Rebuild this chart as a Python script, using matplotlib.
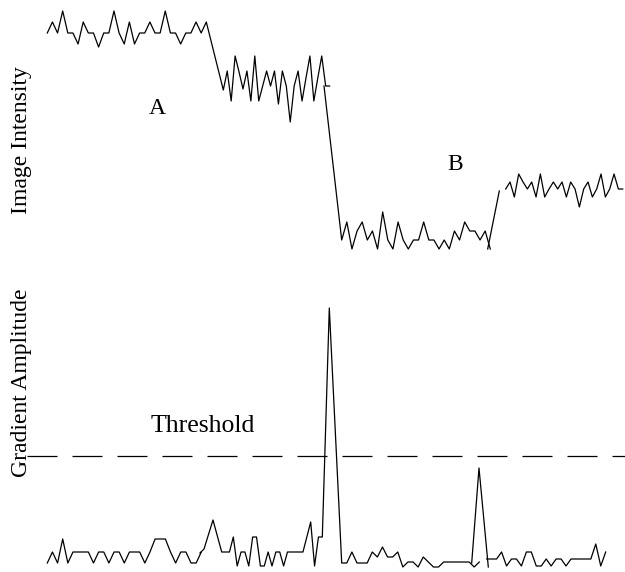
import numpy as np
import matplotlib
matplotlib.use("Agg")
import matplotlib.pyplot as plt

plt.rcParams['font.family'] = ['Liberation Serif', 'DejaVu Serif']

# ---- image intensity along the scan line ----
# region A, flat part
int_a1 = [253, 264, 253, 275, 253, 253, 242, 264, 253, 253, 239, 253, 253, 275, 253, 242,
          264, 242, 253, 253, 264, 253, 253, 275, 253, 253, 242, 253, 253, 264, 253, 264]
# region A, lower step
int_a2 = [196, 215, 185, 230, 214, 197, 215, 185, 230, 185, 200, 215, 200, 215, 182, 215,
          200, 164, 200, 215, 185, 208, 230, 185, 208, 230, 200, 200]
# region B (after the big edge)
int_b_start = 200
int_b = [46, 64, 37, 55, 64, 46, 55, 37, 74, 46, 37, 64, 46, 37, 46, 46, 64, 46, 46, 37,
         46, 37, 55, 46, 64, 55, 55, 46, 55, 37]
# small step up
int_bc = [37, 95]
int_c = [97, 104, 89, 112, 104, 97, 104, 89, 112, 89, 97, 104, 97, 104, 89, 104, 97, 79,
         97, 104, 89, 97, 112, 89, 97, 112, 97, 97]

# ---- gradient amplitude ----
grad_1 = [9, 20, 9, 33, 9, 20, 20, 20, 20, 9, 20, 20, 9, 20, 20, 9, 20, 20, 20, 9, 20, 33,
          33, 33, 20, 9, 20, 20, 9, 9, 20]
grad_2a = [19, 23, 52]
grad_2b = [20, 20, 20, 35, 6, 20, 20, 6, 35, 35, 6, 6, 20, 6, 20, 20, 6, 20, 20, 20, 20,
           20, 35, 50, 6, 35, 35]
grad_peak = 264
grad_3 = [9, 9, 20, 9, 9, 9, 20, 15, 25, 15, 15, 20, 5, 10, 10, 5, 15, 10, 5, 5, 10, 10,
          10, 10, 10, 10, 5, 10]
grad_spike2 = [9, 104, 5]
grad_4 = [13, 13, 13, 20, 6, 13, 13, 6, 20, 20, 6, 6, 13, 6, 13, 13, 6, 13, 13, 13, 13,
          13, 28, 6, 20]
threshold = 116

fig = plt.figure(figsize=(6.25, 5.72), dpi=100)
ax1 = fig.add_axes([0, 0.5, 1, 0.5])
ax2 = fig.add_axes([0, 0, 1, 0.5])
for ax in (ax1, ax2):
    ax.set_xlim(0, 625)
    ax.set_ylim(0, 286)
    ax.axis('off')

lw = 0.9
# top panel
xa = np.concatenate([np.linspace(47.3, 206.3, len(int_a1)), np.linspace(223.3, 329.6, len(int_a2))])
ax1.plot(xa, int_a1 + int_a2, color='black', lw=lw)
xb = np.concatenate([[324], np.linspace(341.7, 490.3, len(int_b))])
ax1.plot(xb, [int_b_start] + int_b, color='black', lw=lw)
ax1.plot([487.7, 499.3], int_bc, color='black', lw=lw)
ax1.plot(np.linspace(505.7, 622.7, len(int_c)), int_c, color='black', lw=lw)

ax1.text(157, 178, 'A', fontsize=17, ha='center', va='center')
ax1.text(455, 122, 'B', fontsize=17, ha='center', va='center')

# bottom panel
ax2.plot(np.linspace(47.3, 201.3, len(grad_1)), grad_1, color='black', lw=lw)
xg = np.concatenate([[200, 204, 213], np.linspace(221.7, 322.3, len(grad_2b)), [329.3],
                     np.linspace(341.7, 479.3, len(grad_3))])
ax2.plot(xg, grad_2a + grad_2b + [grad_peak] + grad_3, color='black', lw=lw)
ax2.plot([471.7, 479, 488.3], grad_spike2, color='black', lw=lw)
ax2.plot(np.linspace(486.7, 605.7, len(grad_4)), grad_4, color='black', lw=lw)

ax2.plot([27, 625], [threshold, threshold], color='black', lw=lw, dashes=(24, 12))
ax2.text(203, 146, 'Threshold', fontsize=18.5, ha='center', va='center')

fig.text(22 / 625, 1 - 140 / 572, 'Image Intensity', fontsize=17, rotation=90,
         ha='center', va='center')
fig.text(22 / 625, 1 - 383 / 572, 'Gradient Amplitude', fontsize=17, rotation=90,
         ha='center', va='center')

fig.savefig('out.png', dpi=100)
